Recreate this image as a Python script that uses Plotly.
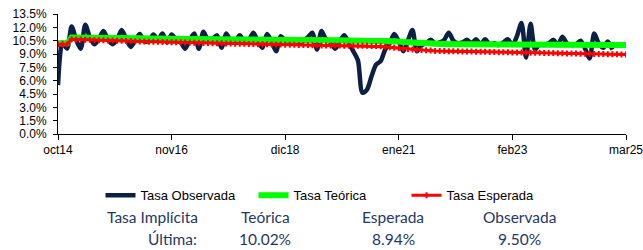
import pandas as pd
import plotly.graph_objects as go

# Categories: monthly, oct14 .. mar25
months = pd.date_range("2014-10-01", "2025-03-01", freq="MS")
mes = ["ene", "feb", "mar", "abr", "may", "jun", "jul", "ago", "sep", "oct", "nov", "dic"]
month_labels = [f"{mes[d.month - 1]}{str(d.year)[2:]}" for d in months]
tick_labels = ["oct14", "nov16", "dic18", "ene21", "feb23", "mar25"]

tasa_observada = [
    5.5, 10.3, 9.6, 12.1, 10.6, 9.6, 12.3, 10.9, 10.1, 10.7,
    11.6, 10.6, 10.1, 10.6, 11.7, 10.7, 9.8, 10.5, 11.25, 10.4,
    10.5, 11.2, 10.6, 11.3, 10.3, 11.2, 10.6, 10.3, 9.6, 10.6,
    11.3, 9.6, 11.5, 10.6, 10.7, 11.1, 9.7, 11.3, 10.5, 10.4,
    11.1, 10.4, 10.6, 11.4, 10.4, 9.7, 11.25, 10.4, 9.3, 11.0,
    10.5, 10.4, 10.6, 10.3, 10.5, 10.9, 11.4, 9.5, 11.6, 10.6,
    10.3, 9.6, 10.4, 11.1, 10.2, 9.3, 8.3, 4.65, 5.0, 6.5,
    7.8, 8.2, 9.5, 10.2, 11.25, 10.4, 9.3, 10.5, 11.7, 9.3,
    10.0, 10.2, 10.6, 10.2, 10.3, 10.6, 11.4, 10.5, 10.2, 10.3,
    10.6, 10.2, 10.65, 10.1, 10.65, 10.1, 10.2, 10.0, 10.3, 10.65,
    10.0, 11.0, 12.5, 8.6, 12.4, 9.5, 10.1, 10.0, 10.2, 10.6,
    10.0, 10.95, 10.2, 10.0, 10.1, 10.5, 9.6, 8.5, 11.3, 10.2,
    9.7, 10.4, 9.5, None, None, None,
]

tasa_teorica = [
    10.20, 10.20, 10.20,
    10.85, 10.85, 10.84, 10.84, 10.83, 10.83, 10.82, 10.82, 10.81, 10.81, 10.80, 10.80, 10.79, 10.78, 10.78, 10.77, 10.76, 10.75,
    10.74, 10.74, 10.73, 10.72, 10.72, 10.71, 10.70, 10.70, 10.69, 10.68, 10.67, 10.67, 10.66, 10.65, 10.64, 10.64, 10.63, 10.62, 10.61, 10.60,
    10.60, 10.60, 10.59, 10.59, 10.59, 10.58, 10.58, 10.58, 10.57, 10.57, 10.57, 10.57, 10.56, 10.56, 10.56, 10.56, 10.55, 10.55, 10.55, 10.55,
    10.55, 10.54, 10.54, 10.54, 10.53, 10.53, 10.52, 10.52, 10.51, 10.51, 10.50, 10.50,
    10.47, 10.44, 10.40, 10.36, 10.32, 10.28, 10.24, 10.21, 10.18, 10.15, 10.13, 10.11, 10.10,
    10.10, 10.10, 10.10, 10.09, 10.09, 10.09, 10.09, 10.08, 10.08, 10.08, 10.08, 10.07, 10.07, 10.07, 10.07, 10.06, 10.06, 10.06, 10.06, 10.05,
    10.05, 10.05, 10.05, 10.05, 10.04, 10.04, 10.04, 10.04, 10.04, 10.03, 10.03, 10.03, 10.03, 10.03, 10.03, 10.02, 10.02, 10.02, 10.02, 10.02,
]

tasa_esperada = [
    10.10, 10.10, 10.10,
    10.65, 10.63, 10.62, 10.60, 10.59, 10.57, 10.56, 10.54, 10.53, 10.51, 10.50, 10.48, 10.47, 10.45, 10.44, 10.42, 10.40,
    10.39, 10.38, 10.37, 10.35, 10.34, 10.33, 10.32, 10.31, 10.29, 10.28, 10.27, 10.26, 10.25, 10.23, 10.22, 10.21, 10.20, 10.19, 10.17, 10.16, 10.15,
    10.14, 10.13, 10.12, 10.11, 10.10, 10.09, 10.08, 10.07, 10.06, 10.05, 10.04, 10.03, 10.02, 10.01, 10.00, 9.99, 9.98, 9.97, 9.96, 9.96, 9.95,
    9.95, 9.94, 9.94, 9.93, 9.93, 9.92, 9.92, 9.91, 9.90,
    9.86, 9.81, 9.76, 9.71, 9.66, 9.61, 9.56, 9.51, 9.47, 9.44, 9.41, 9.38, 9.35,
    9.34, 9.33, 9.32, 9.31, 9.30, 9.29, 9.28, 9.27, 9.26, 9.25, 9.24, 9.23, 9.22, 9.21, 9.20, 9.19, 9.18, 9.17, 9.16, 9.16, 9.15,
    9.14, 9.13, 9.12, 9.11, 9.10, 9.09, 9.08, 9.07, 9.06, 9.05, 9.04, 9.03, 9.02, 9.01, 9.00, 8.99, 8.98, 8.97, 8.96, 8.95, 8.94,
]

tabla_titulos = ["Tasa Implícita", "Teórica", "Esperada", "Observada"]
tabla_valores = ["Última:", "10.02%", "8.94%", "9.50%"]

x = list(range(len(months)))
tickvals = [month_labels.index(t) for t in tick_labels]

NAVY = "#0c1f45"
fig = go.Figure()
fig.add_trace(go.Scatter(
    x=x, y=tasa_observada, name="Tasa Observada", mode="lines",
    line=dict(color=NAVY, width=4.5, shape="spline", smoothing=0.8),
    connectgaps=False,
))
fig.add_trace(go.Scatter(
    x=x, y=tasa_teorica, name="Tasa Teórica", mode="lines+markers",
    line=dict(color="#00ff00", width=6),
    marker=dict(symbol="square", size=5, color="#00ff00"),
))
fig.add_trace(go.Scatter(
    x=x, y=tasa_esperada, name="Tasa Esperada", mode="lines+markers",
    line=dict(color="#ff0000", width=3),
    marker=dict(symbol="cross", size=5, color="#ff0000"),
))

AXFONT = dict(family="Liberation Sans, Arial, sans-serif", size=12, color="#000000")
fig.update_xaxes(
    range=[0, len(months) - 1], tickvals=tickvals, ticktext=tick_labels,
    showgrid=False, zeroline=False, showline=True, linecolor="#000000", linewidth=1,
    ticks="outside", ticklen=5, tickcolor="#000000", tickfont=AXFONT, automargin=False,
    ticklabeloverflow="allow",
)
fig.update_yaxes(
    range=[0, 13.5], dtick=1.5, tickformat=".1f", ticksuffix="%",
    showgrid=False, zeroline=False, showline=True, linecolor="#000000", linewidth=1,
    ticks="outside", ticklen=4, tickcolor="#000000", tickfont=AXFONT, automargin=False,
    ticklabelstandoff=4,
)

L, R, T, B = 58, 17, 14, 115.5
W, H = 643, 250
pw, ph = W - L - R, H - T - B

def px(xp):
    return (xp - L) / pw

def py(yp):
    return (H - B - yp) / ph

TFONT = dict(family="Lato, 'Open Sans', sans-serif", size=15.5, color="#1f3864")
col_x = [152, 265, 393, 519]
for i, (t, v) in enumerate(zip(tabla_titulos, tabla_valores)):
    fig.add_annotation(x=px(col_x[i]), y=py(218), xref="paper", yref="paper",
                       text=t, showarrow=False, font=TFONT, xanchor="center", yanchor="middle")
    if i == 0:
        fig.add_annotation(x=px(199), y=py(240), xref="paper", yref="paper",
                           text=v, showarrow=False, font=TFONT, xanchor="right", yanchor="middle")
    else:
        fig.add_annotation(x=px(col_x[i]), y=py(240), xref="paper", yref="paper",
                           text=v, showarrow=False, font=TFONT, xanchor="center", yanchor="middle")

fig.update_layout(
    width=W, height=H,
    margin=dict(l=L, r=R, t=T, b=B, pad=0, autoexpand=False),
    paper_bgcolor="#ffffff", plot_bgcolor="#ffffff",
    showlegend=True,
    legend=dict(orientation="h", x=px(330), xanchor="center", y=py(196), yanchor="middle",
                font=dict(family="Liberation Sans, Arial, sans-serif", size=13, color="#000000"),
                itemwidth=30, tracegroupgap=0, bgcolor="rgba(0,0,0,0)",
                entrywidth=108, entrywidthmode="pixels"),
)

fig.write_html(
    "out.html",
    config={"displayModeBar": False},
    post_script="document.body.style.margin='0';document.body.style.overflow='hidden';",
)
